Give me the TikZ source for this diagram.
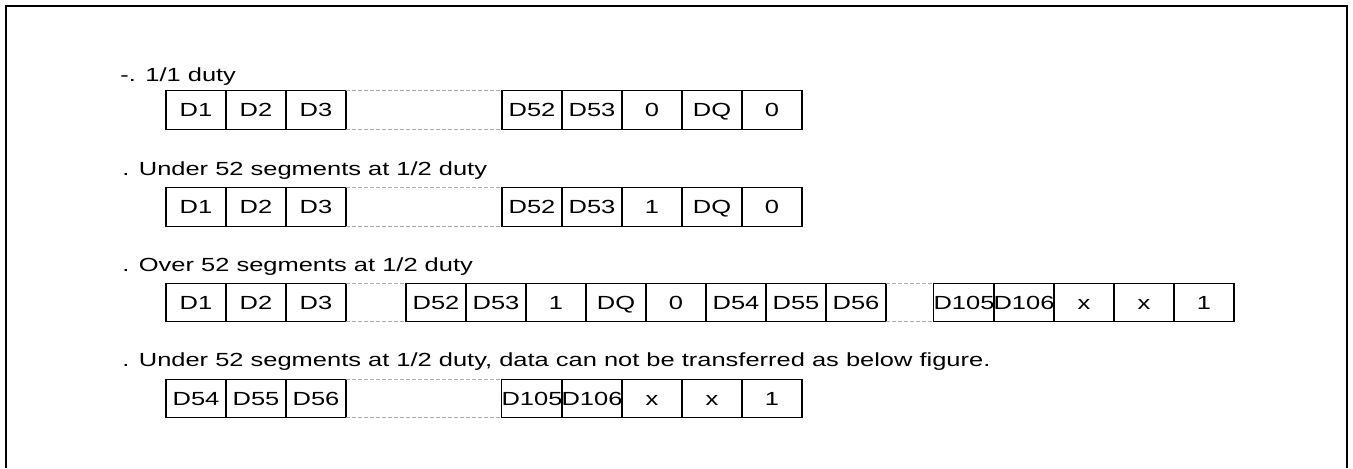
\documentclass[tikz,border=0pt]{standalone}
\usepackage{fontspec}
\setmainfont{Liberation Sans}[FakeStretch=1.34]
\begin{document}
\begin{tikzpicture}[x=0.5pt,y=-0.5pt,
  cell/.style={draw,line width=0.65pt,minimum width=30pt,minimum height=19.25pt,inner sep=0pt,outer sep=0pt,text height=6.8pt,text depth=0pt,font=\fontsize{9.5pt}{11pt}\selectfont},
  lbl/.style={anchor=base west,inner sep=0pt,font=\fontsize{9.5pt}{11pt}\selectfont},
  gapline/.style={draw=black!33,line width=0.5pt,dash pattern=on 2pt off 1pt},
  frame/.style={line width=1pt}]
\useasboundingbox (0,0) rectangle (1353,468);
% outer frame (open at bottom)
\coordinate (fbl) at (6,468);
\coordinate (ftl) at (6,6);
\coordinate (ftr) at (1347,6);
\coordinate (fbr) at (1347,468);
\draw[frame] (fbl) -- (ftl) -- (ftr) -- (fbr);

% Row 1
\node[lbl] (l1) at (120,81) {-. 1/1 duty};
\node[cell] (a1) at (196,110) {D1};
\node[cell] (a2) at (256,110) {D2};
\node[cell] (a3) at (316,110) {D3};
\node[cell] (a4) at (532,110) {D52};
\node[cell] (a5) at (592,110) {D53};
\node[cell] (a6) at (652,110) {0};
\node[cell] (a7) at (712,110) {DQ};
\node[cell] (a8) at (772,110) {0};
\draw[gapline] (a3.north east) -- (a4.north west);
\draw[gapline] (a3.south east) -- (a4.south west);

% Row 2
\node[lbl] (l2) at (122,175) {. Under 52 segments at 1/2 duty};
\node[cell] (b1) at (196,207) {D1};
\node[cell] (b2) at (256,207) {D2};
\node[cell] (b3) at (316,207) {D3};
\node[cell] (b4) at (532,207) {D52};
\node[cell] (b5) at (592,207) {D53};
\node[cell] (b6) at (652,207) {1};
\node[cell] (b7) at (712,207) {DQ};
\node[cell] (b8) at (772,207) {0};
\draw[gapline] (b3.north east) -- (b4.north west);
\draw[gapline] (b3.south east) -- (b4.south west);

% Row 3
\node[lbl] (l3) at (122,271) {. Over 52 segments at 1/2 duty};
\node[cell] (c1) at (196,302.5) {D1};
\node[cell] (c2) at (256,302.5) {D2};
\node[cell] (c3) at (316,302.5) {D3};
\node[cell] (c4) at (436,302.5) {D52};
\node[cell] (c5) at (496,302.5) {D53};
\node[cell] (c6) at (556,302.5) {1};
\node[cell] (c7) at (616,302.5) {DQ};
\node[cell] (c8) at (676,302.5) {0};
\node[cell] (c9) at (736,302.5) {D54};
\node[cell] (c10) at (796,302.5) {D55};
\node[cell] (c11) at (856,302.5) {D56};
\node[cell] (c12) at (964,302.5) {D105};
\node[cell] (c13) at (1024,302.5) {D106};
\node[cell] (c14) at (1084,302.5) {x};
\node[cell] (c15) at (1144,302.5) {x};
\node[cell] (c16) at (1204,302.5) {1};
\draw[gapline] (c3.north east) -- (c4.north west);
\draw[gapline] (c3.south east) -- (c4.south west);
\draw[gapline] (c11.north east) -- (c12.north west);
\draw[gapline] (c11.south east) -- (c12.south west);

% Row 4
\node[lbl] (l4) at (122,366.5) {. Under 52 segments at 1/2 duty, data can not be transferred as below figure.};
\node[cell] (d1) at (196,398.5) {D54};
\node[cell] (d2) at (256,398.5) {D55};
\node[cell] (d3) at (316,398.5) {D56};
\node[cell] (d4) at (532,398.5) {D105};
\node[cell] (d5) at (592,398.5) {D106};
\node[cell] (d6) at (652,398.5) {x};
\node[cell] (d7) at (712,398.5) {x};
\node[cell] (d8) at (772,398.5) {1};
\draw[gapline] (d3.north east) -- (d4.north west);
\draw[gapline] (d3.south east) -- (d4.south west);
\end{tikzpicture}
\end{document}
